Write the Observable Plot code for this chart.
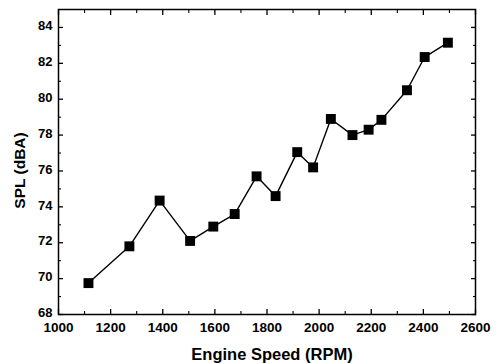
<!DOCTYPE html>
<html>
<head>
<meta charset="utf-8">
<script src="https://cdn.jsdelivr.net/npm/d3@7"></script>
<script src="https://cdn.jsdelivr.net/npm/@observablehq/plot@0.6"></script>
<style>
  html, body { margin: 0; padding: 0; background: #fff; }
  #chart svg { display: block; }
</style>
</head>
<body>
<div id="chart"></div>
<script>
const rpm = [1115, 1272, 1388, 1505, 1594, 1676, 1760, 1833, 1916, 1977, 2045, 2128, 2190, 2239, 2337, 2405, 2494];
const spl = [69.75, 71.8, 74.35, 72.1, 72.9, 73.6, 75.7, 74.6, 77.05, 76.2, 78.9, 78.0, 78.3, 78.85, 80.5, 82.35, 83.15];
const xMajor = [1000, 1200, 1400, 1600, 1800, 2000, 2200, 2400, 2600];
const xMinor = [1100, 1300, 1500, 1700, 1900, 2100, 2300, 2500];
const yMajor = [68, 70, 72, 74, 76, 78, 80, 82, 84];
const yMinor = [69, 71, 73, 75, 77, 79, 81, 83];
const xTitle = "Engine Speed (RPM)";
const yTitle = "SPL (dBA)";

const data = rpm.map((x, i) => ({x, y: spl[i]}));
const font = "'Liberation Sans', Arial, sans-serif";

const chart = Plot.plot({
  width: 497,
  height: 363,
  marginLeft: 58,
  marginRight: 22,
  marginTop: 9,
  marginBottom: 49,
  style: {fontFamily: font, fontWeight: "bold", background: "#fff", color: "#000"},
  x: {domain: [1000, 2600]},
  y: {domain: [68, 85]},
  marks: [
    // bottom axis
    Plot.axisX(xMajor, {anchor: "bottom", tickSize: 5, dy: -5, text: null, label: null, strokeWidth: 1.3}),
    Plot.axisX(xMinor, {anchor: "bottom", tickSize: 3, dy: -3, text: null, label: null, strokeWidth: 1.1}),
    Plot.axisX(xMajor, {anchor: "bottom", tickSize: 0, tickPadding: 8, fontSize: 13.5, label: null, tickFormat: d => String(d)}),
    // top axis
    Plot.axisX(xMajor, {anchor: "top", tickSize: 5, dy: 5, text: null, label: null, strokeWidth: 1.3}),
    Plot.axisX(xMinor, {anchor: "top", tickSize: 3, dy: 3, text: null, label: null, strokeWidth: 1.1}),
    // left axis
    Plot.axisY(yMajor, {anchor: "left", tickSize: 5, dx: 5, text: null, label: null, strokeWidth: 1.3}),
    Plot.axisY(yMinor, {anchor: "left", tickSize: 3, dx: 3, text: null, label: null, strokeWidth: 1.1}),
    Plot.axisY(yMajor, {anchor: "left", tickSize: 0, tickPadding: 6, dy: -1.5, fontSize: 13, label: null}),
    // right axis
    Plot.axisY(yMajor, {anchor: "right", tickSize: 5, dx: -5, text: null, label: null, strokeWidth: 1.3}),
    Plot.axisY(yMinor, {anchor: "right", tickSize: 3, dx: -3, text: null, label: null, strokeWidth: 1.1}),
    Plot.frame({stroke: "#000", strokeWidth: 1.5}),
    // titles
    Plot.text([xTitle], {frameAnchor: "bottom", textAnchor: "middle", dx: 5, dy: 40, fontSize: 16.5, fontWeight: "bold", fill: "#000", lineAnchor: "middle"}),
    Plot.text([yTitle], {frameAnchor: "left", textAnchor: "middle", dx: -38, dy: 8.5, rotate: -90, fontSize: 15.5, fontWeight: "bold", fill: "#000", lineAnchor: "middle"}),
    // data
    Plot.line(data, {x: "x", y: "y", stroke: "#000", strokeWidth: 1.4}),
    Plot.dot(data, {x: "x", y: "y", symbol: "square", r: 5.6, fill: "#000", stroke: "none"})
  ]
});
document.getElementById("chart").appendChild(chart);
</script>
</body>
</html>
